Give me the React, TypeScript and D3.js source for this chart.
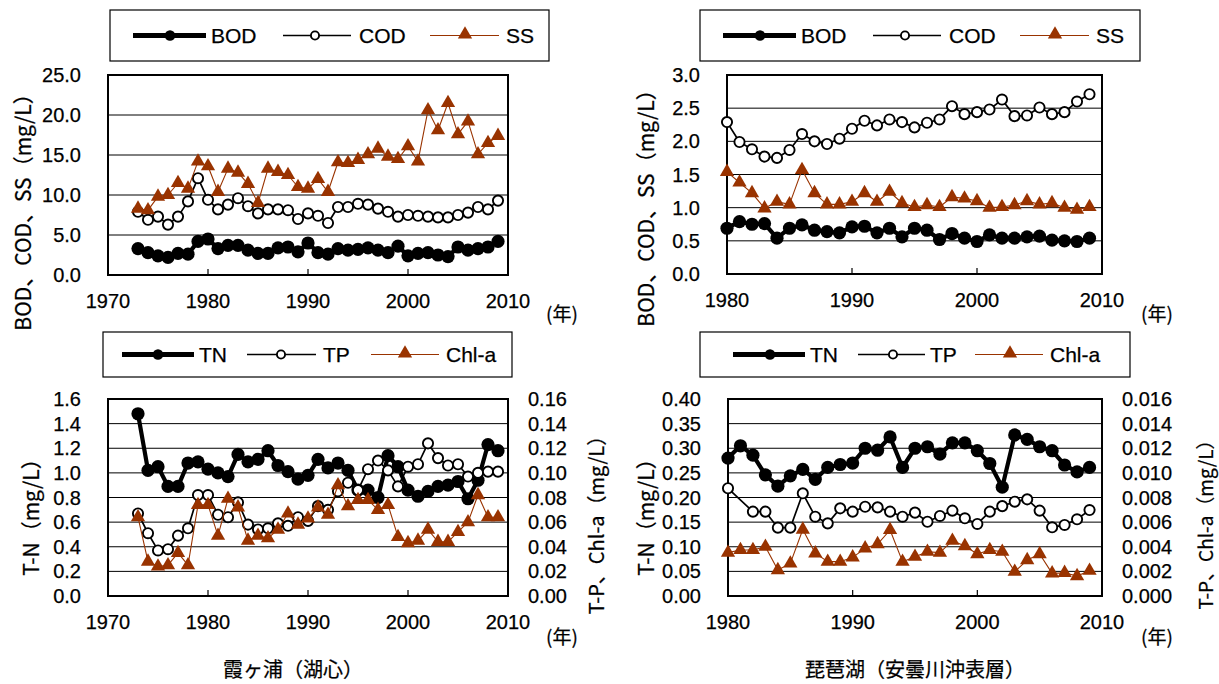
import React from 'react';
import * as d3 from 'd3';

// ---------- Data ----------
const yearsKasumi = [1973,1974,1975,1976,1977,1978,1979,1980,1981,1982,1983,1984,1985,1986,1987,1988,1989,1990,1991,1992,1993,1994,1995,1996,1997,1998,1999,2000,2001,2002,2003,2004,2005,2006,2007,2008,2009];
const yearsBiwa = [1980,1981,1982,1983,1984,1985,1986,1987,1988,1989,1990,1991,1992,1993,1994,1995,1996,1997,1998,1999,2000,2001,2002,2003,2004,2005,2006,2007,2008,2009];

const bodKasumi = [3.3,2.8,2.4,2.2,2.7,2.6,4.2,4.5,3.3,3.7,3.7,3.1,2.7,2.7,3.4,3.5,2.9,4.0,2.8,2.6,3.3,3.1,3.2,3.4,3.1,2.8,3.6,2.4,2.7,2.8,2.5,2.3,3.5,3.1,3.3,3.5,4.2];
const codKasumi = [7.9,6.9,7.3,6.3,7.3,9.2,12.1,9.4,8.2,8.8,9.6,8.6,7.7,8.2,8.2,8.1,7.0,7.7,7.4,6.5,8.5,8.5,8.9,8.8,8.3,7.9,7.3,7.5,7.4,7.3,7.2,7.2,7.5,7.8,8.5,8.2,9.3];
const ssKasumi = [8.3,8.1,9.8,10.0,11.5,10.8,14.2,13.6,10.4,13.3,12.8,11.4,9.0,13.3,12.9,12.5,11.0,10.8,12.0,10.4,14.1,14.0,14.4,15.1,15.8,14.8,14.5,16.1,14.2,20.6,18.1,21.5,17.6,19.2,15.1,16.5,17.4];

const bodBiwa = [0.69,0.79,0.75,0.76,0.54,0.69,0.74,0.66,0.64,0.62,0.71,0.72,0.62,0.69,0.56,0.69,0.66,0.52,0.61,0.54,0.49,0.59,0.54,0.54,0.56,0.57,0.51,0.50,0.49,0.54];
const codBiwa = [2.29,1.99,1.88,1.77,1.75,1.87,2.11,2.00,1.96,2.04,2.19,2.31,2.24,2.33,2.29,2.21,2.28,2.33,2.53,2.41,2.44,2.48,2.63,2.38,2.39,2.51,2.41,2.44,2.60,2.71];
const ssBiwa = [1.54,1.38,1.22,0.99,1.09,1.05,1.57,1.22,1.05,1.05,1.09,1.22,1.09,1.24,1.07,1.01,1.04,1.01,1.16,1.14,1.10,1.00,1.01,1.04,1.10,1.05,1.07,1.00,0.97,1.01];

const tnKasumi = [1.48,1.02,1.05,0.89,0.89,1.08,1.09,1.03,1.00,0.97,1.15,1.09,1.11,1.18,1.06,1.01,0.95,0.98,1.11,1.04,1.08,1.02,0.86,0.86,0.80,1.14,1.05,0.86,0.81,0.85,0.89,0.90,0.93,0.79,0.94,1.23,1.18];
const tpKasumi = [0.067,0.051,0.037,0.038,0.049,0.055,0.082,0.082,0.066,0.064,0.076,0.058,0.054,0.055,0.059,0.057,0.064,0.061,0.073,0.070,0.085,0.092,0.086,0.103,0.110,0.102,0.089,0.105,0.107,0.124,0.112,0.106,0.107,0.097,0.100,0.101,0.101];
const chlKasumi = [0.064,0.028,0.024,0.025,0.035,0.025,0.074,0.074,0.049,0.079,0.072,0.045,0.049,0.047,0.054,0.067,0.058,0.063,0.072,0.066,0.090,0.073,0.078,0.078,0.070,0.074,0.048,0.043,0.045,0.054,0.044,0.044,0.052,0.060,0.082,0.064,0.064];

const tnBiwa = [0.280,0.305,0.286,0.246,0.223,0.244,0.257,0.237,0.261,0.267,0.270,0.300,0.296,0.323,0.261,0.300,0.303,0.288,0.311,0.311,0.295,0.269,0.221,0.327,0.318,0.303,0.295,0.266,0.252,0.261];
const tpBiwa: (number | null)[] = [0.00875,null,0.00685,0.00685,0.00555,0.00555,0.00834,0.00644,0.0059,0.00712,0.00685,0.00725,0.0072,0.00685,0.00644,0.00677,0.00603,0.0065,0.00693,0.00631,0.00585,0.00685,0.0073,0.00766,0.00785,0.00693,0.00558,0.00577,0.00623,0.00698];
const chlBiwa = [0.00352,0.00374,0.00374,0.0040,0.00211,0.00265,0.0054,0.00347,0.00279,0.00279,0.00314,0.00387,0.00422,0.00536,0.00279,0.00319,0.0036,0.00352,0.00449,0.00406,0.00341,0.00374,0.0036,0.00198,0.00292,0.00341,0.00184,0.00188,0.00162,0.00205];

const xTicksKasumi = [1970, 1980, 1990, 2000, 2010];
const xTicksBiwa = [1980, 1990, 2000, 2010];
const yTicksKasumiOrg = [0, 5, 10, 15, 20, 25];
const yTicksBiwaOrg = [0, 0.5, 1.0, 1.5, 2.0, 2.5, 3.0];
const yTicksKasumiTN = [0, 0.2, 0.4, 0.6, 0.8, 1.0, 1.2, 1.4, 1.6];
const yTicksKasumiTP = [0, 0.02, 0.04, 0.06, 0.08, 0.10, 0.12, 0.14, 0.16];
const yTicksBiwaTN = [0, 0.05, 0.10, 0.15, 0.20, 0.25, 0.30, 0.35, 0.40];
const yTicksBiwaTP = [0, 0.002, 0.004, 0.006, 0.008, 0.010, 0.012, 0.014, 0.016];

// ---------- Styles ----------
const BROWN = '#993300';
const FONT = '"Liberation Sans", Arial, sans-serif';
const JFONT = '"Noto Sans CJK JP", "Liberation Sans", sans-serif';

type Kind = 'thick' | 'open' | 'tri';

function Marker({ kind, x, y, s = 1 }: { kind: Kind; x: number; y: number; s?: number }) {
  if (kind === 'thick') return <circle cx={x} cy={y} r={6.6 * s} fill="#000" />;
  if (kind === 'open') return <circle cx={x} cy={y} r={5.1 * s} fill="#fff" stroke="#000" strokeWidth={1.9} />;
  const p = d3.symbol(d3.symbolTriangle, 88 * s * s)() as string;
  return <path d={p} transform={`translate(${x},${y})`} fill={BROWN} />;
}

const lineStyle = (k: Kind) =>
  k === 'thick' ? { stroke: '#000', w: 4.2 } : k === 'open' ? { stroke: '#000', w: 1.7 } : { stroke: BROWN, w: 1.1 };

type SeriesDef = { label: string; kind: Kind; values: (number | null)[]; axis: 'L' | 'R' };
type LegendItem = { label: string; kind: Kind; x1: number; x2: number; mx: number; tx: number };

type PanelProps = {
  left: number; right: number; top: number; bottom: number;
  xDomain: [number, number]; xTicks: number[]; years: number[];
  yL: { domain: [number, number]; ticks: number[]; fmt: string };
  yR?: { domain: [number, number]; ticks: number[]; fmt: string };
  series: SeriesDef[];
  legend: { x: number; y: number; w: number; h: number; items: LegendItem[] };
  titleL: { x: number; y: number; text: string };
  titleR?: { x: number; y: number; text: string; size?: number };
  unit: { x: number; y: number };
};

const TXT = { fill: '#000', stroke: '#000', strokeWidth: 0.25 };

function Panel(p: PanelProps) {
  const x = d3.scaleLinear().domain(p.xDomain).range([p.left, p.right]);
  const yl = d3.scaleLinear().domain(p.yL.domain).range([p.bottom, p.top]);
  const yr = p.yR ? d3.scaleLinear().domain(p.yR.domain).range([p.bottom, p.top]) : yl;
  const fL = d3.format(p.yL.fmt);
  const fR = p.yR ? d3.format(p.yR.fmt) : fL;
  const lg = p.legend;
  const cy = lg.y + lg.h / 2;
  return (
    <g>
      {/* legend */}
      <rect x={lg.x} y={lg.y} width={lg.w} height={lg.h} fill="#fff" stroke="#000" strokeWidth={1.2} />
      {lg.items.map((it) => {
        const ls = lineStyle(it.kind);
        return (
          <g key={it.label}>
            <line x1={it.x1} x2={it.x2} y1={cy} y2={cy} stroke={ls.stroke} strokeWidth={it.kind === 'thick' ? 5 : ls.w} />
            <Marker kind={it.kind} x={it.mx} y={it.kind === 'tri' ? cy - 1 : cy} s={it.kind === 'tri' ? 1 : 0.8} />
            <text x={it.tx} y={cy} dominantBaseline="central" fontFamily={FONT} fontSize={21} {...TXT}>{it.label}</text>
          </g>
        );
      })}
      {/* gridlines */}
      {p.yL.ticks.map((t) => (
        <line key={'g' + t} x1={p.left} x2={p.right} y1={yl(t)} y2={yl(t)} stroke="#000" strokeWidth={1} />
      ))}
      {/* x ticks */}
      {p.xTicks.map((t) => (
        <line key={'xt' + t} x1={x(t)} x2={x(t)} y1={p.bottom} y2={p.bottom - 6} stroke="#000" strokeWidth={1.2} />
      ))}
      <rect x={p.left} y={p.top} width={p.right - p.left} height={p.bottom - p.top} fill="none" stroke="#000" strokeWidth={2} />
      {/* tick labels */}
      {p.yL.ticks.map((t) => (
        <text key={'yl' + t} x={p.left - 27} y={yl(t)} textAnchor="end" dominantBaseline="central" fontFamily={FONT} fontSize={20} {...TXT}>{fL(t)}</text>
      ))}
      {p.yR && p.yR.ticks.map((t) => (
        <text key={'yr' + t} x={p.right + 20} y={yr(t)} textAnchor="start" dominantBaseline="central" fontFamily={FONT} fontSize={20} {...TXT}>{fR(t)}</text>
      ))}
      {p.xTicks.map((t) => (
        <text key={'xl' + t} x={x(t)} y={p.bottom + 26} textAnchor="middle" dominantBaseline="central" fontFamily={FONT} fontSize={20} {...TXT}>{t}</text>
      ))}
      <text x={p.unit.x} y={p.unit.y} textAnchor="middle" dominantBaseline="central" fontFamily={JFONT} fontSize={19} {...TXT}>(年)</text>
      <text transform={`translate(${p.titleL.x},${p.titleL.y}) rotate(-90)`} textAnchor="middle" dominantBaseline="central" fontFamily={JFONT} fontSize={21} {...TXT}>{p.titleL.text}</text>
      {p.titleR && (
        <text transform={`translate(${p.titleR.x},${p.titleR.y}) rotate(-90)`} textAnchor="middle" dominantBaseline="central" fontFamily={JFONT} fontSize={p.titleR.size ?? 20} {...TXT}>{p.titleR.text}</text>
      )}
      {/* series */}
      {p.series.map((s) => {
        const ys = s.axis === 'L' ? yl : yr;
        const pts = p.years.map((yr0, i) => ({ yr: yr0, v: s.values[i] })).filter((d) => d.v != null) as { yr: number; v: number }[];
        const path = d3.line<{ yr: number; v: number }>().x((d) => x(d.yr)).y((d) => ys(d.v))(pts) as string;
        const ls = lineStyle(s.kind);
        return (
          <g key={s.label}>
            <path d={path} fill="none" stroke={ls.stroke} strokeWidth={ls.w} strokeLinejoin="round" />
            {pts.map((d) => (
              <Marker key={d.yr} kind={s.kind} x={x(d.yr)} y={ys(d.v)} />
            ))}
          </g>
        );
      })}
    </g>
  );
}

export default function App() {
  const orgLegend = (bx: number): LegendItem[] => [
    { label: 'BOD', kind: 'thick', x1: bx + 23, x2: bx + 96, mx: bx + 60, tx: bx + 101 },
    { label: 'COD', kind: 'open', x1: bx + 173, x2: bx + 241, mx: bx + 205, tx: bx + 249 },
    { label: 'SS', kind: 'tri', x1: bx + 320, x2: bx + 389, mx: bx + 355, tx: bx + 396 },
  ];
  return (
    <svg width={1219} height={684} style={{ position: 'absolute', left: 0, top: 0, background: '#fff' }}>
      <rect x={0} y={0} width={1219} height={684} fill="#fff" />
      <Panel
        left={108} right={508} top={75} bottom={275}
        xDomain={[1970, 2010]} xTicks={xTicksKasumi} years={yearsKasumi}
        yL={{ domain: [0, 25], ticks: yTicksKasumiOrg, fmt: '.1f' }}
        series={[
          { label: 'BOD', kind: 'thick', values: bodKasumi, axis: 'L' },
          { label: 'COD', kind: 'open', values: codKasumi, axis: 'L' },
          { label: 'SS', kind: 'tri', values: ssKasumi, axis: 'L' },
        ]}
        legend={{ x: 110, y: 10, w: 439, h: 51, items: orgLegend(110) }}
        titleL={{ x: 22, y: 207, text: 'BOD、COD、SS（mg/L）' }}
        unit={{ x: 562, y: 312 }}
      />
      <Panel
        left={727} right={1102} top={75} bottom={274}
        xDomain={[1980, 2010]} xTicks={xTicksBiwa} years={yearsBiwa}
        yL={{ domain: [0, 3], ticks: yTicksBiwaOrg, fmt: '.1f' }}
        series={[
          { label: 'BOD', kind: 'thick', values: bodBiwa, axis: 'L' },
          { label: 'COD', kind: 'open', values: codBiwa, axis: 'L' },
          { label: 'SS', kind: 'tri', values: ssBiwa, axis: 'L' },
        ]}
        legend={{ x: 700, y: 10, w: 440, h: 51, items: orgLegend(700) }}
        titleL={{ x: 645, y: 203, text: 'BOD、COD、SS（mg/L）' }}
        unit={{ x: 1157, y: 312 }}
      />
      <Panel
        left={108} right={508} top={399} bottom={596}
        xDomain={[1970, 2010]} xTicks={xTicksKasumi} years={yearsKasumi}
        yL={{ domain: [0, 1.6], ticks: yTicksKasumiTN, fmt: '.1f' }}
        yR={{ domain: [0, 0.16], ticks: yTicksKasumiTP, fmt: '.2f' }}
        series={[
          { label: 'TN', kind: 'thick', values: tnKasumi, axis: 'L' },
          { label: 'TP', kind: 'open', values: tpKasumi, axis: 'R' },
          { label: 'Chl-a', kind: 'tri', values: chlKasumi, axis: 'R' },
        ]}
        legend={{
          x: 103, y: 332, w: 409, h: 45, items: [
            { label: 'TN', kind: 'thick', x1: 122, x2: 194, mx: 158, tx: 199 },
            { label: 'TP', kind: 'open', x1: 247, x2: 316, mx: 281, tx: 323 },
            { label: 'Chl-a', kind: 'tri', x1: 371, x2: 439, mx: 405, tx: 446 },
          ],
        }}
        titleL={{ x: 30, y: 512, text: 'T-N（mg/L）' }}
        titleR={{ x: 595, y: 520, text: 'T-P、Chl-a（mg/L）' }}
        unit={{ x: 562, y: 635 }}
      />
      <Panel
        left={728} right={1102} top={399} bottom={596}
        xDomain={[1980, 2010]} xTicks={xTicksBiwa} years={yearsBiwa}
        yL={{ domain: [0, 0.4], ticks: yTicksBiwaTN, fmt: '.2f' }}
        yR={{ domain: [0, 0.016], ticks: yTicksBiwaTP, fmt: '.3f' }}
        series={[
          { label: 'TN', kind: 'thick', values: tnBiwa, axis: 'L' },
          { label: 'TP', kind: 'open', values: tpBiwa, axis: 'R' },
          { label: 'Chl-a', kind: 'tri', values: chlBiwa, axis: 'R' },
        ]}
        legend={{
          x: 700, y: 332, w: 430, h: 45, items: [
            { label: 'TN', kind: 'thick', x1: 733, x2: 805, mx: 770, tx: 810 },
            { label: 'TP', kind: 'open', x1: 858, x2: 925, mx: 893, tx: 930 },
            { label: 'Chl-a', kind: 'tri', x1: 975, x2: 1043, mx: 1010, tx: 1050 },
          ],
        }}
        titleL={{ x: 645, y: 512, text: 'T-N（mg/L）' }}
        titleR={{ x: 1204, y: 520, text: 'T-P、Chl-a（mg/L）', size: 19 }}
        unit={{ x: 1157, y: 635 }}
      />
      <text x={293} y={668} textAnchor="middle" dominantBaseline="central" fontFamily={JFONT} fontSize={20} {...TXT}>霞ヶ浦（湖心）</text>
      <text x={915} y={668} textAnchor="middle" dominantBaseline="central" fontFamily={JFONT} fontSize={20} {...TXT}>琵琶湖（安曇川沖表層）</text>
    </svg>
  );
}
